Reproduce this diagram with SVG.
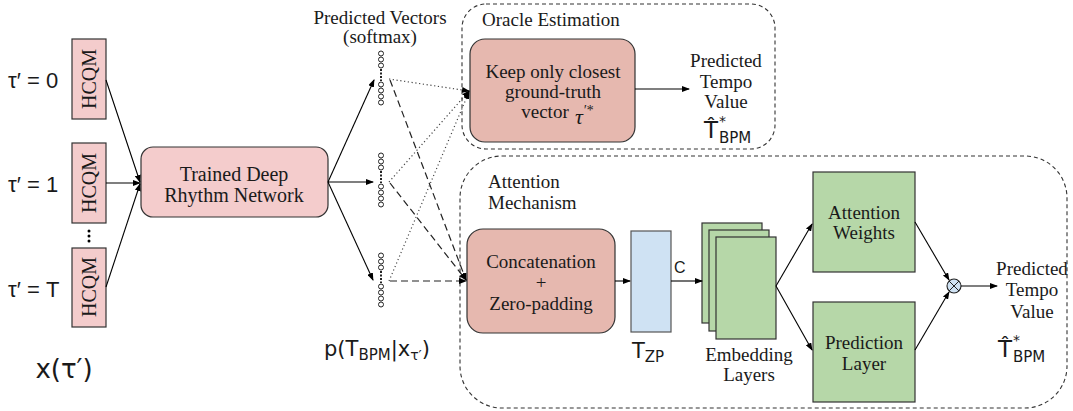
<svg xmlns="http://www.w3.org/2000/svg" width="1073" height="411" viewBox="0 0 1073 411">
<defs>
<marker id="ah" markerWidth="8" markerHeight="6" refX="7" refY="3" orient="auto" markerUnits="userSpaceOnUse">
<path d="M0,0 L8,3 L0,6 Z" fill="#000"/>
</marker>
<style>
.t{font-family:"Liberation Serif","Times New Roman",serif;font-size:19px;fill:#1a1a1a;text-anchor:middle}
.m{font-family:"DejaVu Sans","Liberation Sans",sans-serif;fill:#1a1a1a}
.s{font-family:"Liberation Sans",Arial,sans-serif;fill:#1a1a1a}
.ln{stroke:#000;stroke-width:1.1;fill:none}
.dot{stroke:#444;stroke-width:1.2;stroke-dasharray:1.2 2.6;fill:none}
.dsh{stroke:#222;stroke-width:1.2;stroke-dasharray:7 4;fill:none}
.grp{stroke:#333;stroke-width:1.1;stroke-dasharray:4 3;fill:none}
.pink{fill:#f4cccc;stroke:#333;stroke-width:1.2}
.rose{fill:#e6b8af;stroke:#333;stroke-width:1.2}
.green{fill:#b6d7a8;stroke:#333;stroke-width:1.2}
.blue{fill:#cfe2f3;stroke:#555;stroke-width:1.2}
.c{fill:#fff;stroke:#222;stroke-width:1}
.vd{stroke:#222;stroke-width:2;stroke-dasharray:2 1.5}
.big{font-size:23px}
.sup{font-size:14px}
.sub{font-size:15px}
</style>
</defs>

<g id="groups">
<rect x="462" y="4" width="313" height="145" rx="24" class="grp"/>
<rect x="460" y="156" width="607" height="252" rx="42" class="grp"/>
<text class="t" x="482" y="26" style="text-anchor:start">Oracle Estimation</text>
<text class="t" x="488" y="188" style="text-anchor:start">Attention</text>
<text class="t" x="488" y="209" style="text-anchor:start">Mechanism</text>
</g>

<g id="hcqm0">
<rect x="72" y="39" width="34" height="80" class="pink"/>
<text class="t" transform="translate(96,79) rotate(-90)" style="font-size:20px">HCQM</text>
<text class="s" x="8" y="88" style="font-size:22px">τ′ = 0</text>
</g>
<g id="hcqm1">
<rect x="72" y="143" width="34" height="80" class="pink"/>
<text class="t" transform="translate(96,183) rotate(-90)" style="font-size:20px">HCQM</text>
<text class="s" x="8" y="192" style="font-size:22px">τ′ = 1</text>
</g>
<g id="dots">
<circle cx="89" cy="231" r="1.5" fill="#000"/>
<circle cx="89" cy="236" r="1.5" fill="#000"/>
<circle cx="89" cy="241" r="1.5" fill="#000"/>
</g>
<g id="hcqmT">
<rect x="72" y="248" width="34" height="79" class="pink"/>
<text class="t" transform="translate(96,287) rotate(-90)" style="font-size:20px">HCQM</text>
<text class="s" x="8" y="297" style="font-size:22px">τ′ = T</text>
</g>
<g id="xlabel">
<text class="m" x="64" y="378" style="font-size:26px;text-anchor:middle">x(τ′)</text>
</g>

<g id="network">
<rect x="141" y="147" width="187" height="70" rx="12" class="pink"/>
<text class="t" x="234" y="181" style="font-size:20px">Trained Deep</text>
<text class="t" x="234" y="202" style="font-size:20px">Rhythm Network</text>
</g>

<g id="vectors">
<text class="t" x="380" y="24">Predicted Vectors</text>
<text class="t" x="380" y="43">(softmax)</text>
<g id="vec0">
<circle cx="381" cy="53.5" r="2.5" class="c"/><circle cx="381" cy="59.5" r="2.5" class="c"/><circle cx="381" cy="65.5" r="2.5" class="c"/>
<line x1="381" y1="69" x2="381" y2="81" class="vd"/>
<circle cx="381" cy="84.5" r="2.5" class="c"/><circle cx="381" cy="90.5" r="2.5" class="c"/><circle cx="381" cy="96.5" r="2.5" class="c"/><circle cx="381" cy="102.5" r="2.5" class="c"/>
</g>
<g id="vec1">
<circle cx="381" cy="155.5" r="2.5" class="c"/><circle cx="381" cy="161.5" r="2.5" class="c"/><circle cx="381" cy="167.5" r="2.5" class="c"/>
<line x1="381" y1="171" x2="381" y2="183" class="vd"/>
<circle cx="381" cy="186.5" r="2.5" class="c"/><circle cx="381" cy="192.5" r="2.5" class="c"/><circle cx="381" cy="198.5" r="2.5" class="c"/><circle cx="381" cy="204.5" r="2.5" class="c"/>
</g>
<g id="vec2">
<circle cx="381" cy="255.5" r="2.5" class="c"/><circle cx="381" cy="261.5" r="2.5" class="c"/><circle cx="381" cy="267.5" r="2.5" class="c"/>
<line x1="381" y1="271" x2="381" y2="283" class="vd"/>
<circle cx="381" cy="286.5" r="2.5" class="c"/><circle cx="381" cy="292.5" r="2.5" class="c"/><circle cx="381" cy="298.5" r="2.5" class="c"/><circle cx="381" cy="304.5" r="2.5" class="c"/>
</g>
<text class="m" x="377" y="356" style="font-size:21px;text-anchor:middle">p(T<tspan font-size="15" dy="4">BPM</tspan><tspan dy="-4">|x</tspan><tspan font-size="14" dy="4">τ′</tspan><tspan dy="-4">)</tspan></text>
</g>

<g id="oracle">
<rect x="470" y="39" width="165" height="103" rx="15" class="rose"/>
<text class="t" x="553" y="78">Keep only closest</text>
<text class="t" x="553" y="98">ground-truth</text>
<text class="t" x="545" y="118">vector</text>
<text x="575" y="124" style="font-family:'Liberation Serif',serif;font-style:italic;font-size:22px;fill:#1a1a1a">τ<tspan font-size="14" dy="-9">′*</tspan></text>
</g>
<g id="oracleOut">
<text class="t" x="726" y="67">Predicted</text>
<text class="t" x="726" y="88">Tempo</text>
<text class="t" x="726" y="108">Value</text>
<text class="m big" x="704" y="138">T̂</text>
<text class="m sup" x="719" y="126">*</text>
<text class="m sub" x="719" y="143">BPM</text>
</g>

<g id="concat">
<rect x="467" y="229" width="148" height="104" rx="16" class="rose"/>
<text class="t" x="541" y="268">Concatenation</text>
<text class="t" x="541" y="289">+</text>
<text class="t" x="541" y="310">Zero-padding</text>
</g>
<g id="tzp">
<rect x="631" y="231" width="40" height="101" class="blue"/>
<text class="m" x="632" y="358" style="font-size:21px">T<tspan font-size="15" dy="4">ZP</tspan></text>
</g>
<g id="embedding">
<rect x="702" y="223" width="60" height="100" class="green"/>
<rect x="709" y="230" width="60" height="101" class="green"/>
<rect x="716" y="237" width="60" height="102" class="green"/>
<text class="t" x="749" y="361">Embedding</text>
<text class="t" x="749" y="381">Layers</text>
</g>
<g id="attw">
<rect x="813" y="172" width="102" height="100" class="green"/>
<text class="t" x="864" y="219">Attention</text>
<text class="t" x="864" y="239">Weights</text>
</g>
<g id="predl">
<rect x="813" y="302" width="102" height="100" class="green"/>
<text class="t" x="864" y="349">Prediction</text>
<text class="t" x="864" y="370">Layer</text>
</g>
<g id="mult">
<circle cx="954" cy="286" r="7" fill="#cfe2f3" stroke="#222" stroke-width="1.1"/>
<line x1="949" y1="281" x2="959" y2="291" stroke="#222" stroke-width="1"/>
<line x1="959" y1="281" x2="949" y2="291" stroke="#222" stroke-width="1"/>
</g>
<g id="attOut">
<text class="t" x="1032" y="275">Predicted</text>
<text class="t" x="1032" y="296">Tempo</text>
<text class="t" x="1032" y="318">Value</text>
<text class="m big" x="998" y="357">T̂</text>
<text class="m sup" x="1013" y="345">*</text>
<text class="m sub" x="1013" y="362">BPM</text>
</g>

<g id="connectors">
<line x1="106" y1="80" x2="140" y2="182" class="ln" marker-end="url(#ah)"/>
<line x1="106" y1="183" x2="140" y2="183" class="ln" marker-end="url(#ah)"/>
<line x1="106" y1="287" x2="140" y2="184" class="ln" marker-end="url(#ah)"/>
<line x1="328" y1="182" x2="374" y2="80" class="ln" marker-end="url(#ah)"/>
<line x1="328" y1="182" x2="373" y2="182" class="ln" marker-end="url(#ah)"/>
<line x1="328" y1="182" x2="373" y2="280" class="ln" marker-end="url(#ah)"/>
<line x1="389" y1="79" x2="469" y2="91" class="dot" marker-end="url(#ah)"/>
<line x1="389" y1="182" x2="469" y2="91" class="dot" marker-end="url(#ah)"/>
<line x1="389" y1="281" x2="469" y2="92" class="dot" marker-end="url(#ah)"/>
<line x1="390" y1="80" x2="466" y2="280" class="dsh" marker-end="url(#ah)"/>
<line x1="390" y1="183" x2="466" y2="280" class="dsh" marker-end="url(#ah)"/>
<line x1="390" y1="281" x2="466" y2="281" class="dsh" marker-end="url(#ah)"/>
<line x1="635" y1="89" x2="689" y2="89" class="ln" marker-end="url(#ah)"/>
<line x1="615" y1="281" x2="630" y2="281" class="ln" marker-end="url(#ah)"/>
<line x1="671" y1="281" x2="702" y2="281" class="ln" marker-end="url(#ah)"/>
<text class="s" x="674" y="273" style="font-size:16px">C</text>
<line x1="776" y1="286" x2="812" y2="224" class="ln" marker-end="url(#ah)"/>
<line x1="776" y1="286" x2="812" y2="350" class="ln" marker-end="url(#ah)"/>
<line x1="915" y1="222" x2="949" y2="280" class="ln" marker-end="url(#ah)"/>
<line x1="915" y1="350" x2="949" y2="292" class="ln" marker-end="url(#ah)"/>
<line x1="961" y1="286" x2="997" y2="286" class="ln" marker-end="url(#ah)"/>
</g>
</svg>
